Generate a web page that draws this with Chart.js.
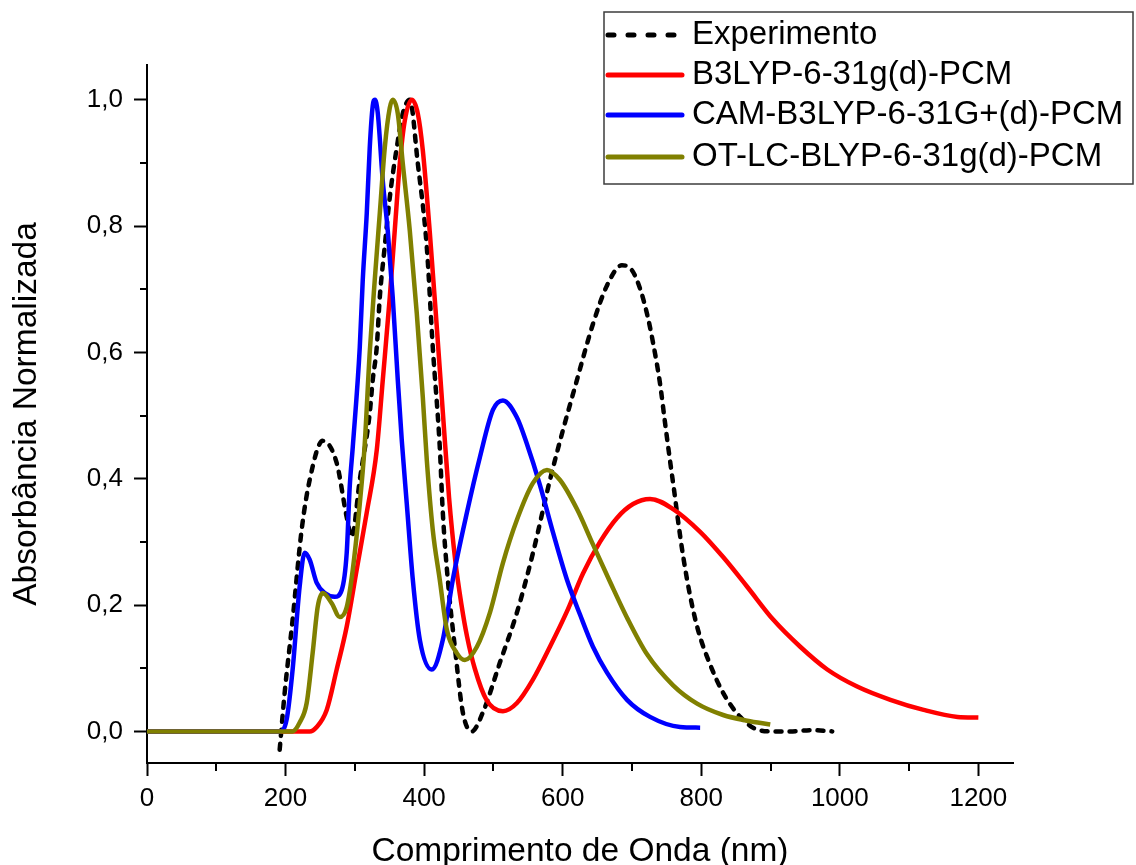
<!DOCTYPE html>
<html>
<head>
<meta charset="utf-8">
<script src="https://cdn.jsdelivr.net/npm/chart.js@4.4.1/dist/chart.umd.min.js"></script>
<style>
  html, body { margin: 0; padding: 0; background: #ffffff; }
  #wrap { width: 1136px; height: 865px; }
</style>
</head>
<body>
<div id="wrap"><canvas id="c" width="1136" height="865"></canvas></div>
<script>
// ---------- data ----------
const expLabel = 'Experimento';
const expX = [191.5, 198.7, 210.2, 223.2, 234.8, 253.6, 273.8, 288.3, 295.5, 307.1, 321.5, 325.8, 331.6, 336.0, 343.0, 350.4, 360.5, 369.2, 379.3, 390.9, 403.9, 412.5, 422.6, 427.0, 434.2, 444.3, 455.9, 468.9, 484.8, 509.4, 533.9, 557.0, 581.6, 600.4, 617.7, 643.7, 664.0, 685.6, 700.0, 712.0, 722.0, 730.5, 740.6, 747.8, 755.0, 760.8, 766.6, 773.8, 783.9, 795.5, 812.8, 831.6, 856.2, 880.7, 903.8, 928.4, 960.0, 989.1];
const expY = [-0.029, 0.061, 0.177, 0.319, 0.398, 0.460, 0.425, 0.339, 0.308, 0.398, 0.504, 0.556, 0.608, 0.687, 0.766, 0.845, 0.924, 0.978, 1.000, 0.899, 0.766, 0.608, 0.450, 0.346, 0.240, 0.134, 0.030, 0.000, 0.030, 0.109, 0.188, 0.282, 0.398, 0.477, 0.545, 0.645, 0.706, 0.738, 0.730, 0.700, 0.660, 0.615, 0.550, 0.488, 0.428, 0.382, 0.333, 0.278, 0.215, 0.160, 0.106, 0.061, 0.023, 0.003, 0.000, 0.000, 0.002, 0.000];

const b3lypLabel = 'B3LYP-6-31g(d)-PCM';
const b3lypX = [0, 216, 234.8, 245, 259.4, 273.8, 288.3, 302.7, 317.1, 331.6, 340.3, 350.4, 357.6, 364.9, 372.1, 382.2, 390.9, 398.1, 408.2, 418.3, 428, 436, 445, 454, 462, 473, 490, 513.8, 534, 557, 581.6, 606.2, 629.3, 653.9, 678.4, 701.6, 726.1, 759.4, 798.4, 831.6, 866.3, 903.8, 942.9, 981.9, 1025, 1073, 1121, 1170, 1200];
const b3lypY = [0, 0, 0, 0.007, 0.034, 0.098, 0.166, 0.256, 0.346, 0.445, 0.556, 0.687, 0.793, 0.899, 0.967, 1.0, 0.978, 0.920, 0.790, 0.640, 0.490, 0.370, 0.270, 0.200, 0.150, 0.100, 0.050, 0.032, 0.045, 0.082, 0.134, 0.190, 0.250, 0.300, 0.338, 0.360, 0.368, 0.352, 0.316, 0.276, 0.229, 0.177, 0.134, 0.098, 0.071, 0.050, 0.034, 0.023, 0.022];

const camLabel = 'CAM-B3LYP-6-31G+(d)-PCM';
const camX = [0, 191.5, 201.6, 210.2, 220.3, 227.6, 234.8, 245, 256.5, 271, 281.1, 288.3, 292.6, 297, 307.1, 311.4, 317.2, 321.5, 325.8, 329, 333, 340.3, 347.5, 354.7, 362, 367.8, 375, 383.7, 393.8, 411.1, 427, 441.4, 461.7, 480.5, 499.3, 513.7, 534, 548.4, 567.2, 586, 606.2, 625, 643.7, 664, 692.9, 726.1, 769.4, 798.4];
const camY = [0, 0, 0.019, 0.098, 0.229, 0.283, 0.272, 0.235, 0.219, 0.213, 0.224, 0.283, 0.387, 0.450, 0.608, 0.714, 0.820, 0.924, 0.990, 1.0, 0.980, 0.872, 0.793, 0.687, 0.556, 0.460, 0.360, 0.240, 0.145, 0.098, 0.145, 0.240, 0.346, 0.434, 0.509, 0.524, 0.497, 0.455, 0.390, 0.315, 0.240, 0.185, 0.134, 0.093, 0.050, 0.023, 0.007, 0.006];

const otLabel = 'OT-LC-BLYP-6-31g(d)-PCM';
const otX = [0, 210, 220.4, 230.5, 239.1, 246.4, 253.6, 266.6, 278.2, 288.3, 297, 307.1, 314, 321.5, 328.7, 336, 343.2, 350.4, 354.7, 362, 369.2, 379.3, 389.4, 398.1, 403.9, 412.5, 422.6, 432.8, 447.2, 458.8, 476.2, 495, 513.8, 534, 557, 577.3, 596.1, 620.6, 643.7, 668.3, 692.9, 721.8, 759.4, 794, 831.6, 866.3, 899.6];
const otY = [0, 0, 0.014, 0.045, 0.124, 0.197, 0.219, 0.203, 0.181, 0.197, 0.256, 0.360, 0.450, 0.600, 0.714, 0.820, 0.924, 0.987, 1.0, 0.978, 0.899, 0.793, 0.662, 0.529, 0.429, 0.319, 0.240, 0.161, 0.124, 0.113, 0.134, 0.188, 0.267, 0.335, 0.393, 0.414, 0.398, 0.352, 0.296, 0.237, 0.180, 0.122, 0.073, 0.044, 0.026, 0.017, 0.011];

// ---------- axis ticks ----------
const xMajorTicks = [0, 200, 400, 600, 800, 1000, 1200];
const xMinorTicks = [100, 300, 500, 700, 900, 1100];
const yMajorTicks = [0, 0.2, 0.4, 0.6, 0.8, 1.0];
const yMinorTicks = [0.1, 0.3, 0.5, 0.7, 0.9];
const xTitle = 'Comprimento de Onda (nm)';
const yTitle = 'Absorbância Normalizada';

const FONT = "'Liberation Sans', Arial, sans-serif";

function pts(xs, ys) { return xs.map((x, i) => ({ x: x, y: ys[i] })); }

const minorTicksPlugin = {
  id: 'minorTicks',
  afterDraw(chart) {
    const ctx = chart.ctx;
    const xs = chart.scales.x, ys = chart.scales.y;
    const area = chart.chartArea;
    ctx.save();
    ctx.strokeStyle = '#000';
    ctx.lineWidth = 2;
    ctx.beginPath();
    xMinorTicks.forEach(v => {
      const px = Math.round(xs.getPixelForValue(v));
      ctx.moveTo(px, area.bottom);
      ctx.lineTo(px, area.bottom + 8);
    });
    yMinorTicks.forEach(v => {
      const py = Math.round(ys.getPixelForValue(v));
      ctx.moveTo(area.left - 7, py);
      ctx.lineTo(area.left, py);
    });
    ctx.stroke();
    ctx.restore();
  }
};

const boxLegendPlugin = {
  id: 'boxLegend',
  afterDraw(chart) {
    const ctx = chart.ctx;
    const bx = 604, by = 12, bw = 529, bh = 172;
    ctx.save();
    ctx.fillStyle = '#ffffff';
    ctx.fillRect(bx, by, bw, bh);
    ctx.strokeStyle = '#3c3c3c';
    ctx.lineWidth = 1.5;
    ctx.strokeRect(bx, by, bw, bh);
    const rows = [35, 75, 115, 157];
    ctx.font = '33px ' + FONT;
    ctx.textBaseline = 'middle';
    ctx.textAlign = 'left';
    chart.data.datasets.forEach((ds, i) => {
      const y = rows[i];
      ctx.beginPath();
      ctx.strokeStyle = ds.borderColor;
      ctx.lineWidth = 5;
      ctx.lineCap = 'round';
      ctx.setLineDash(ds.borderDash && ds.borderDash.length ? [6, 14] : []);
      ctx.moveTo(608, y);
      ctx.lineTo(682, y);
      ctx.stroke();
      ctx.setLineDash([]);
      ctx.fillStyle = '#000';
      ctx.fillText(ds.label, 692, y);
    });
    ctx.restore();
  }
};

new Chart(document.getElementById('c'), {
  type: 'line',
  data: {
    datasets: [
      { label: expLabel, data: pts(expX, expY), borderColor: '#000000', borderWidth: 4.5,
        borderDash: [6, 8], borderCapStyle: 'round', order: 4 },
      { label: b3lypLabel, data: pts(b3lypX, b3lypY), borderColor: '#ff0000', borderWidth: 4.5, order: 3 },
      { label: camLabel, data: pts(camX, camY), borderColor: '#0000ff', borderWidth: 4.5, order: 2 },
      { label: otLabel, data: pts(otX, otY), borderColor: '#808000', borderWidth: 4.5, order: 1 }
    ]
  },
  options: {
    responsive: false,
    animation: false,
    devicePixelRatio: 1,
    layout: { padding: { top: 65, right: 123, left: 0, bottom: 0 } },
    elements: {
      point: { radius: 0, hoverRadius: 0 },
      line: { cubicInterpolationMode: 'monotone', fill: false, borderJoinStyle: 'round' }
    },
    plugins: { legend: { display: false }, tooltip: { enabled: false } },
    scales: {
      x: {
        type: 'linear', min: 0, max: 1250,
        afterBuildTicks: s => { s.ticks = xMajorTicks.map(v => ({ value: v })); },
        afterFit: s => { s.height = 102; },
        ticks: { color: '#000', font: { family: FONT, size: 26 }, padding: 7,
                 maxRotation: 0, autoSkip: false, callback: v => String(v) },
        grid: { display: true, drawOnChartArea: false, drawTicks: true, tickLength: 13,
                tickWidth: 2, tickColor: '#000', color: '#000' },
        border: { display: true, color: '#000', width: 2 },
        title: { display: true, text: xTitle, color: '#000',
                 font: { family: FONT, size: 33.5, lineHeight: 0.8 }, padding: { top: 0, bottom: 0 } }
      },
      y: {
        type: 'linear', min: -0.05, max: 1.055,
        afterBuildTicks: s => { s.ticks = yMajorTicks.map(v => ({ value: v })); },
        afterFit: s => { s.width = 147; },
        ticks: { color: '#000', font: { family: FONT, size: 26 }, padding: 11,
                 autoSkip: false, callback: v => v.toFixed(1).replace('.', ',') },
        grid: { display: true, drawOnChartArea: false, drawTicks: true, tickLength: 13,
                tickWidth: 2, tickColor: '#000', color: '#000' },
        border: { display: true, color: '#000', width: 2 },
        title: { display: true, text: yTitle, color: '#000',
                 font: { family: FONT, size: 33.5, lineHeight: 1 }, padding: { top: 10, bottom: 0 } }
      }
    }
  },
  plugins: [minorTicksPlugin, boxLegendPlugin]
});
</script>
</body>
</html>
